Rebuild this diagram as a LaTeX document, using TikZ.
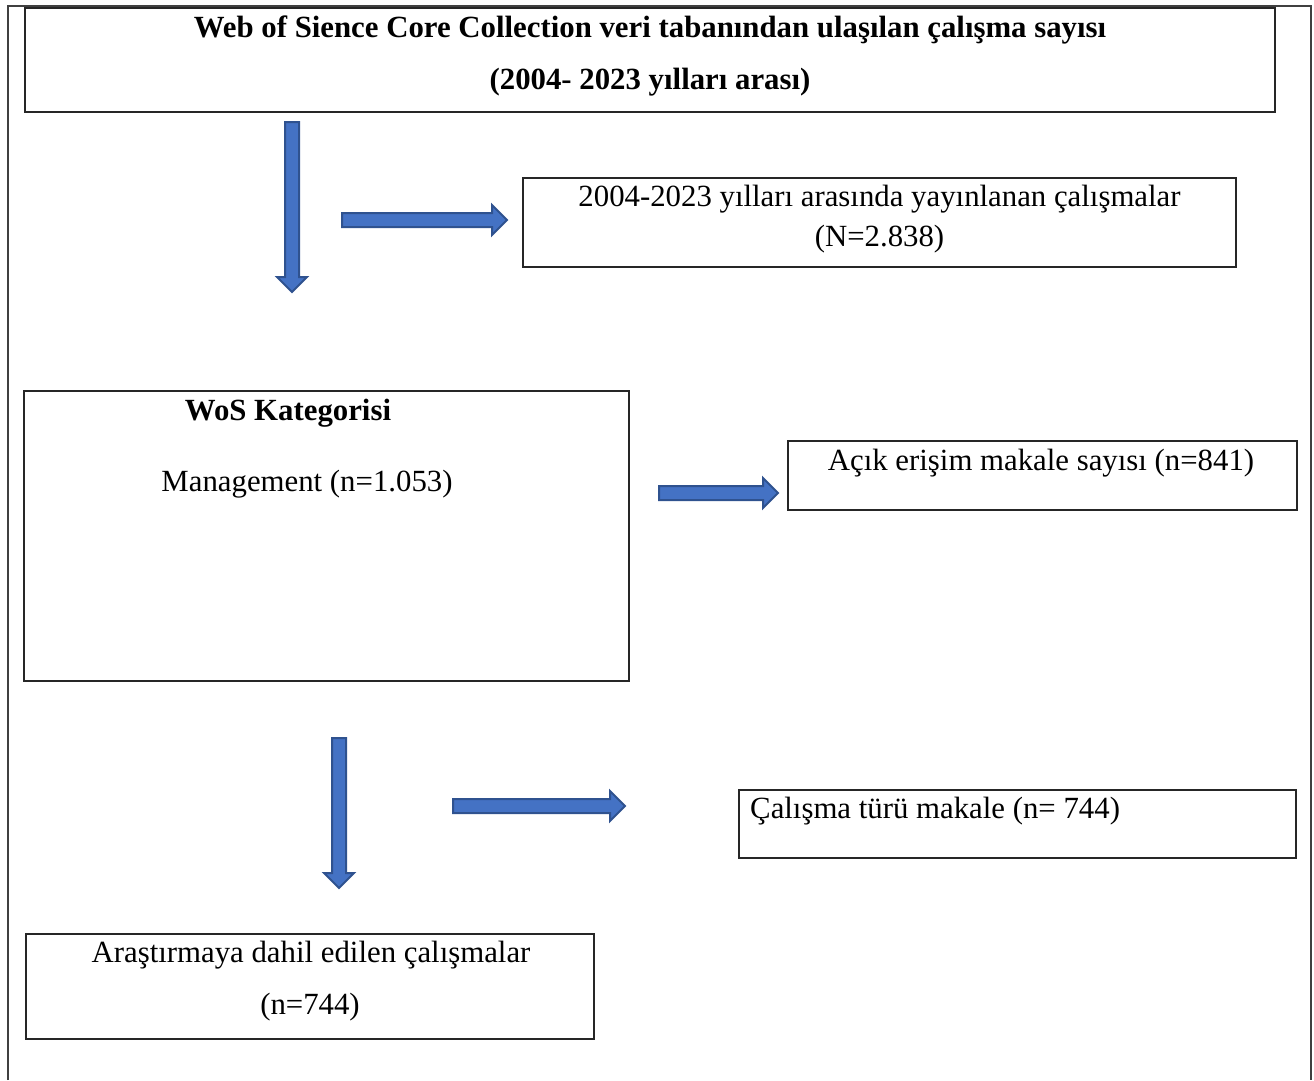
\documentclass[tikz,border=0pt]{standalone}
\usepackage{fontspec}
\setmainfont{Liberation Serif}
\usetikzlibrary{positioning,shapes.arrows}
\definecolor{okmavi}{RGB}{68,114,196}
\definecolor{okkenar}{RGB}{47,82,143}
\tikzset{
  kutu/.style={draw=black!85, line width=1.5pt, rectangle, inner sep=0pt},
  yazi/.style={anchor=base, inner sep=0pt, font=\fontsize{30.8}{37}\selectfont},
  blokok/.style={single arrow, draw=okkenar, fill=okmavi, line width=2pt,
    single arrow head extend=8pt,
    single arrow head indent=0pt, inner sep=6pt},
}

\begin{document}
\begin{tikzpicture}[x=1pt,y=-1pt]
  \useasboundingbox (0,0) rectangle (1314,1080);
  % outer frame (open at the bottom)
  \draw[black!75, line width=1.5pt] (8,1080) -- (8,6) -- (1311,6) -- (1311,1080);

  % boxes
  \node[kutu, minimum width=1250pt, minimum height=104pt] (wos) at (650,60) {};
  \node[kutu, minimum width=713pt, minimum height=89pt] (yil) at (879.5,222.5) {};
  \node[kutu, minimum width=605pt, minimum height=290pt] (kat) at (326.5,536) {};
  \node[kutu, minimum width=509pt, minimum height=69pt] (acik) at (1042.5,475.5) {};
  \node[kutu, minimum width=557pt, minimum height=68pt] (tur) at (1017.5,824) {};
  \node[kutu, minimum width=568pt, minimum height=105pt] (dahil) at (310,986.5) {};

  % texts
  \node[yazi] (wosa) at (650,37) {\bfseries Web of Sience Core Collection veri tabanından ulaşılan çalışma sayısı};
  \node[yazi] (wosb) at (650,89) {\bfseries (2004- 2023 yılları arası)};
  \node[yazi] (yila) at (879.5,206) {2004-2023 yılları arasında yayınlanan çalışmalar};
  \node[yazi] (yilb) at (879.5,246) {(N=2.838)};
  \node[yazi] (kata) at (288,420) {\bfseries WoS Kategorisi};
  \node[yazi] (katb) at (307,491) {Management (n=1.053)};
  \node[yazi] (acika) at (1041,470) {Açık erişim makale sayısı (n=841)};
  \node[yazi, anchor=base west] (tura) at (750,818) {Çalışma türü makale (n= 744)};
  \node[yazi] (dahila) at (311,962) {Araştırmaya dahil edilen çalışmalar};
  \node[yazi] (dahilb) at (310,1014) {(n=744)};

  % block arrows
  \node[blokok, shape border rotate=270, minimum height=170pt] (ok1) at (292,203.5) {};
  \node[blokok, minimum height=165pt] (ok2) at (421,220) {};
  \node[blokok, minimum height=119pt] (ok3) at (715,493) {};
  \node[blokok, shape border rotate=270, minimum height=150pt] (ok4) at (339,809.5) {};
  \node[blokok, minimum height=172pt] (ok5) at (535.5,806) {};
\end{tikzpicture}
\end{document}
